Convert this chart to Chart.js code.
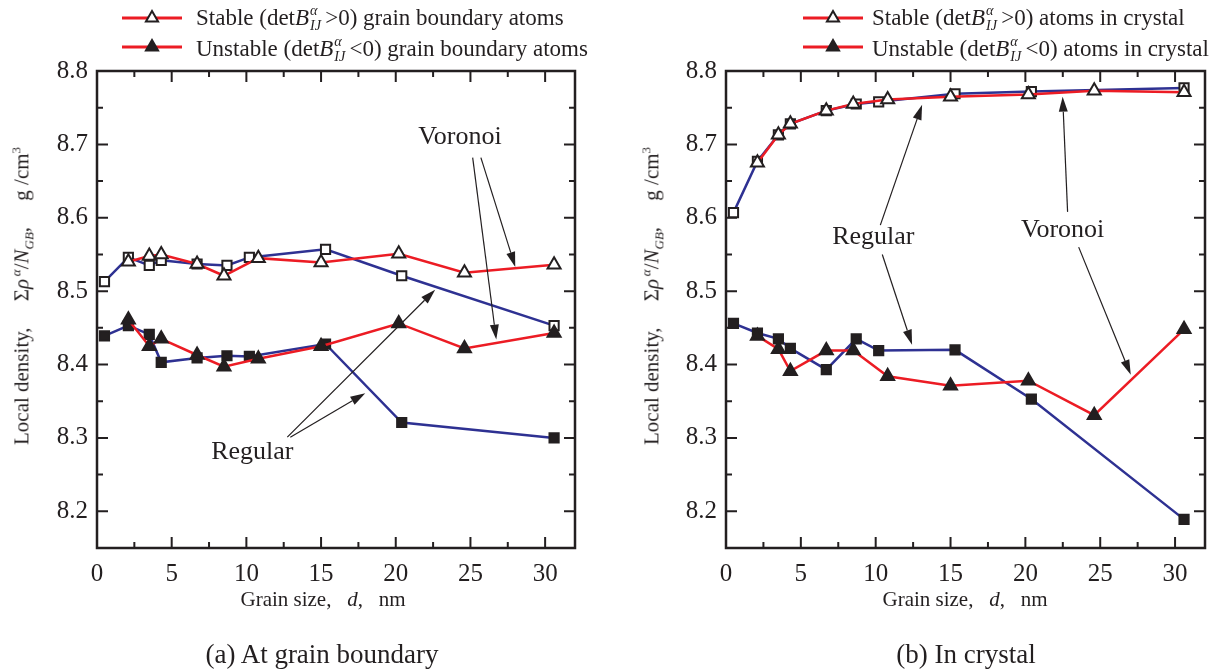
<!DOCTYPE html>
<html>
<head>
<meta charset="utf-8">
<script src="https://cdn.jsdelivr.net/npm/chart.js@4.4.1/dist/chart.umd.min.js"></script>
<style>
  body { margin: 0; width: 1216px; height: 671px; background: #fff; position: relative; overflow: hidden;
         font-family: "Liberation Serif", "Times New Roman", serif; color: #231f20; }
  canvas { position: absolute; top: 0; }
  .txt { position: absolute; white-space: nowrap; }
  .legend { font-size: 23px; line-height: 30px; }
  .ytitle { font-size: 21px; transform: translate(-50%, -50%) rotate(-90deg); }
  .xtitle { font-size: 21px; transform: translateX(-50%); }
  .caption { font-size: 27px; transform: translateX(-50%); }
  .sx { position: relative; display: inline-block; width: 0.7em; height: 1em; vertical-align: baseline; font-style: italic; }
  .sx .a, .sx .b { position: absolute; left: 1px; font-size: 0.62em; line-height: 1; }
  .sx .a { top: 0.05em; }
  .sx .b { top: 1.15em; }
  sup, sub { font-size: 0.62em; }
</style>
</head>
<body>
<canvas id="gb" width="600" height="600" style="left:0;width:600px;height:600px"></canvas>
<canvas id="cr" width="608" height="600" style="left:608px;width:608px;height:600px"></canvas>

<div class="txt legend" style="left:196px;top:2px">
  Stable (det<i>B</i><span class="sx"><span class="a">α</span><span class="b">IJ</span></span>&gt;0) grain boundary atoms<br>
  Unstable (det<i>B</i><span class="sx"><span class="a">α</span><span class="b">IJ</span></span>&lt;0) grain boundary atoms
</div>
<div class="txt legend" style="left:872px;top:2px">
  Stable (det<i>B</i><span class="sx"><span class="a">α</span><span class="b">IJ</span></span>&gt;0) atoms in crystal<br>
  Unstable (det<i>B</i><span class="sx"><span class="a">α</span><span class="b">IJ</span></span>&lt;0) atoms in crystal
</div>

<div class="txt ytitle" style="left:23px;top:296px">Local density,&emsp; Σ<i>ρ</i><sup>&thinsp;<i>α</i></sup>/<i>N</i><sub><i>GB</i></sub>,&emsp; g /cm<sup>3</sup></div>
<div class="txt ytitle" style="left:653px;top:296px">Local density,&emsp; Σ<i>ρ</i><sup>&thinsp;<i>α</i></sup>/<i>N</i><sub><i>GB</i></sub>,&emsp; g /cm<sup>3</sup></div>

<div class="txt xtitle" style="left:323px;top:587px">Grain size,&ensp; <i>d</i>,&ensp; nm</div>
<div class="txt xtitle" style="left:965px;top:587px">Grain size,&ensp; <i>d</i>,&ensp; nm</div>

<div class="txt caption" style="left:322px;top:639px">(a) At grain boundary</div>
<div class="txt caption" style="left:966px;top:639px">(b) In crystal</div>

<script>
// grain sizes (nm) for the two tessellation schemes
const sizeRegular = [0.5, 2.1, 3.5, 4.3, 6.7, 8.7, 10.2, 15.3, 20.4, 30.6];
const sizeVoronoi = [2.1, 3.5, 4.3, 6.7, 8.5, 10.8, 15.0, 20.2, 24.6, 30.6];

// (a) grain boundary atoms, g/cm^3
const gbRegularStable   = [8.513, 8.546, 8.535, 8.542, 8.537, 8.535, 8.546, 8.557, 8.521, 8.453];
const gbVoronoiStable   = [8.540, 8.548, 8.550, 8.537, 8.521, 8.545, 8.539, 8.551, 8.525, 8.536];
const gbRegularUnstable = [8.439, 8.453, 8.441, 8.403, 8.409, 8.412, 8.411, 8.428, 8.321, 8.300];
const gbVoronoiUnstable = [8.461, 8.425, 8.435, 8.413, 8.397, 8.408, 8.425, 8.456, 8.422, 8.443];

// (b) atoms in crystal, g/cm^3
const crRegularStable   = [8.607, 8.677, 8.713, 8.728, 8.746, 8.755, 8.758, 8.769, 8.772, 8.777];
const crVoronoiStable   = [8.675, 8.713, 8.728, 8.746, 8.755, 8.761, 8.765, 8.768, 8.773, 8.771];
const crRegularUnstable = [8.456, 8.443, 8.435, 8.422, 8.393, 8.435, 8.419, 8.420, 8.353, 8.189];
const crVoronoiUnstable = [8.439, 8.421, 8.391, 8.419, 8.419, 8.384, 8.371, 8.378, 8.331, 8.448];

const yTicks = [8.2, 8.3, 8.4, 8.5, 8.6, 8.7, 8.8];
const xTicks = [0, 5, 10, 15, 20, 25, 30];

const RED = '#ec1c24';
const BLUE = '#2e3192';
const INK = '#231f20';
const FONT = 'Liberation Serif';

function pts(xs, ys) {
  return xs.map((x, i) => ({ x: x, y: ys[i] }));
}

function series(xs, ys, regular, open) {
  return {
    data: pts(xs, ys),
    borderColor: regular ? BLUE : RED,
    borderWidth: 2.5,
    tension: 0,
    pointStyle: regular ? 'rect' : 'triangle',
    pointRadius: regular ? 6.5 : 7.5,
    pointBorderWidth: 2,
    pointBorderColor: INK,
    pointBackgroundColor: open ? '#fff' : INK,
    pointHoverRadius: regular ? 6.5 : 7.5
  };
}

function triangle(ctx, x, y, r) {
  ctx.beginPath();
  for (let k = 0; k < 3; k++) {
    const a = -Math.PI / 2 + k * 2 * Math.PI / 3;
    const px = x + r * Math.cos(a), py = y + r * Math.sin(a);
    k ? ctx.lineTo(px, py) : ctx.moveTo(px, py);
  }
  ctx.closePath();
}

const near = (list, v) => list.find(t => Math.abs(t - v) < 1e-6);

// box frame with inward ticks, arrows and labels, legend samples
const paperFrame = {
  id: 'paperFrame',
  beforeDatasetsDraw(chart) {
    const { ctx, chartArea: a, scales: { x, y } } = chart;
    ctx.save();
    ctx.strokeStyle = INK;
    ctx.lineWidth = 2;
    ctx.beginPath();
    x.ticks.forEach(t => {
      if (t.value <= x.min + 1e-6 || t.value >= x.max - 1e-6) return;
      const px = x.getPixelForValue(t.value);
      const len = t.label ? 11 : 6;
      ctx.moveTo(px, a.bottom); ctx.lineTo(px, a.bottom - len);
      ctx.moveTo(px, a.top); ctx.lineTo(px, a.top + len);
    });
    y.ticks.forEach(t => {
      if (t.value <= y.min + 1e-6 || t.value >= y.max - 1e-6) return;
      const py = y.getPixelForValue(t.value);
      const len = t.label ? 11 : 6;
      ctx.moveTo(a.left, py); ctx.lineTo(a.left + len, py);
      ctx.moveTo(a.right, py); ctx.lineTo(a.right - len, py);
    });
    ctx.stroke();
    ctx.lineWidth = 2.5;
    ctx.strokeRect(a.left, a.top, a.right - a.left, a.bottom - a.top);
    ctx.restore();
  },
  afterDatasetsDraw(chart, args, opts) {
    const { ctx, scales: { x, y } } = chart;
    ctx.save();
    ctx.fillStyle = INK;
    ctx.strokeStyle = INK;
    ctx.font = '26px "' + FONT + '"';
    ctx.textAlign = 'center';
    ctx.textBaseline = 'middle';
    (opts.notes || []).forEach(n => ctx.fillText(n.text, x.getPixelForValue(n.x), y.getPixelForValue(n.y)));

    (opts.arrows || []).forEach(([x1, y1, x2, y2]) => {
      const ax = x.getPixelForValue(x1), ay = y.getPixelForValue(y1);
      const bx = x.getPixelForValue(x2), by = y.getPixelForValue(y2);
      const ang = Math.atan2(by - ay, bx - ax);
      const head = 15, half = 4.5;
      const cx = bx - head * Math.cos(ang), cy = by - head * Math.sin(ang);
      ctx.lineWidth = 1.2;
      ctx.beginPath();
      ctx.moveTo(ax, ay);
      ctx.lineTo(cx, cy);
      ctx.stroke();
      ctx.beginPath();
      ctx.moveTo(bx, by);
      ctx.lineTo(cx + half * Math.sin(ang), cy - half * Math.cos(ang));
      ctx.lineTo(cx - half * Math.sin(ang), cy + half * Math.cos(ang));
      ctx.closePath();
      ctx.fill();
    });

    const lg = opts.legend;
    if (lg) {
      lg.rows.forEach((ry, i) => {
        ctx.strokeStyle = RED;
        ctx.lineWidth = 3;
        ctx.beginPath();
        ctx.moveTo(lg.x0, ry);
        ctx.lineTo(lg.x1, ry);
        ctx.stroke();
        triangle(ctx, (lg.x0 + lg.x1) / 2, ry, 7);
        ctx.fillStyle = i === 0 ? '#fff' : INK;
        ctx.fill();
        ctx.strokeStyle = INK;
        ctx.lineWidth = 2;
        ctx.stroke();
      });
    }
    ctx.restore();
  }
};

function makeChart(id, sets, yWidth, rightPad, extras) {
  return new Chart(document.getElementById(id), {
    type: 'line',
    data: { datasets: sets },
    plugins: [paperFrame],
    options: {
      responsive: false,
      maintainAspectRatio: false,
      devicePixelRatio: 1,
      animation: false,
      layout: { padding: { left: 0, top: 71, right: rightPad, bottom: 0 } },
      plugins: {
        legend: { display: false },
        tooltip: { enabled: false },
        paperFrame: extras
      },
      scales: {
        x: {
          type: 'linear',
          min: 0,
          max: 32,
          afterFit: s => { s.height = 52; },
          grid: { display: false },
          border: { display: false },
          ticks: {
            stepSize: 2.5,
            includeBounds: false,
            autoSkip: false,
            maxRotation: 0,
            padding: 3,
            color: INK,
            font: { family: FONT, size: 25 },
            callback: v => {
              const hit = near(xTicks, v);
              return hit === undefined ? '' : String(hit);
            }
          }
        },
        y: {
          min: 8.15,
          max: 8.8,
          afterFit: s => { s.width = yWidth; },
          grid: { display: false },
          border: { display: false },
          ticks: {
            stepSize: 0.05,
            autoSkip: false,
            padding: 1,
            color: INK,
            font: { family: FONT, size: 25 },
            callback: v => {
              const hit = near(yTicks, v);
              return hit === undefined ? '' : hit.toFixed(1);
            }
          }
        }
      }
    }
  });
}

makeChart('gb', [
  series(sizeVoronoi, gbVoronoiStable, false, true),
  series(sizeVoronoi, gbVoronoiUnstable, false, false),
  series(sizeRegular, gbRegularStable, true, true),
  series(sizeRegular, gbRegularUnstable, true, false)
], 97, 25, {
  notes: [
    { text: 'Voronoi', x: 24.3, y: 8.71 },
    { text: 'Regular', x: 10.4, y: 8.281 }
  ],
  arrows: [
    [25.15, 8.682, 26.73, 8.434],
    [25.7, 8.682, 28.0, 8.533],
    [12.74, 8.301, 22.64, 8.502],
    [12.94, 8.301, 17.96, 8.361]
  ],
  legend: { x0: 122, x1: 182, rows: [18, 47] }
});

makeChart('cr', [
  series(sizeVoronoi, crVoronoiStable, false, true),
  series(sizeVoronoi, crVoronoiUnstable, false, false),
  series(sizeRegular, crRegularStable, true, true),
  series(sizeRegular, crRegularUnstable, true, false)
], 118, 11, {
  notes: [
    { text: 'Regular', x: 9.84, y: 8.573 },
    { text: 'Voronoi', x: 22.49, y: 8.583 }
  ],
  arrows: [
    [10.31, 8.59, 13.1, 8.754],
    [10.44, 8.55, 12.43, 8.427],
    [22.82, 8.608, 22.49, 8.765],
    [23.56, 8.56, 27.04, 8.386]
  ],
  legend: { x0: 195, x1: 255, rows: [18, 47] }
});
</script>
</body>
</html>
